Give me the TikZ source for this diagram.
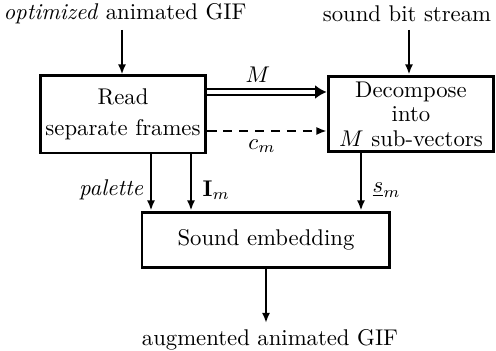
\documentclass[tikz,border=0pt]{standalone}
\usetikzlibrary{arrows.meta,calc}
\begin{document}
\begin{tikzpicture}[x=0.44pt,y=-0.44pt,
  blk/.style={draw,line width=1.3pt,inner sep=0pt,align=center},
  arr/.style={line width=1.2pt,-{Latex[length=4.5pt,width=3.6pt]}},
  lbl/.style={inner sep=1pt}]
\useasboundingbox (0,0) rectangle (496,351);
\node[lbl] (gif) at (125,14) {\textit{optimized} animated GIF};
\node[lbl] (snd) at (407,14) {sound bit stream};
\node[blk,minimum width=73pt,minimum height=33.9pt,font={\fontsize{10}{13.6}\selectfont}] (rd) at (123,114.5) {Read\\separate frames};
\node[blk,minimum width=73pt,minimum height=33.4pt,font={\fontsize{10}{10.8}\selectfont}] (dc) at (411,114) {Decompose\\into\\$M$ sub-vectors};
\node[blk,minimum width=109.1pt,minimum height=24.6pt] (se) at (266,240) {Sound embedding};
\node[lbl] (out) at (270,340) {augmented animated GIF};
\coordinate (gifa) at (122,30);
\coordinate (snda) at (409,30);
\draw[arr] (gifa) -- (gifa |- rd.north);
\draw[arr] (snda) -- (snda |- dc.north);
% M double arrow
\coordinate (m1) at (rd.east |- 0,92);
\coordinate (m2) at (dc.west |- 0,92);
\draw[line width=0.8pt,double distance=1.8pt,-{Latex[length=5pt,width=6pt]}] (m1) -- (m2);
\node[lbl] (ml) at (258,75) {$M$};
% c_m dashed
\coordinate (c1) at (rd.east |- 0,131);
\coordinate (c2) at (dc.west |- 0,131);
\draw[line width=0.8pt,dash pattern=on 4pt off 3pt,-{Latex[length=4.5pt,width=3.6pt]}] (c1) -- (c2);
\node[lbl] (cl) at (262,146) {$c_m$};
% down arrows
\coordinate (p1) at (151,0);
\coordinate (p2) at (191,0);
\coordinate (p3) at (361,0);
\draw[arr] (p1 |- rd.south) -- (p1 |- se.north);
\draw[arr] (p2 |- rd.south) -- (p2 |- se.north);
\draw[arr] (p3 |- dc.south) -- (p3 |- se.north);
\node[lbl,anchor=east] (pl) at (146,190) {\textit{palette}};
\node[lbl,anchor=west] (il) at (200,190) {$\mathbf{I}_m$};
\node[lbl,anchor=west] (sl) at (370,190) {$\underline{s}_m$};
\coordinate (oa) at (266,323);
\draw[arr] (oa |- se.south) -- (oa);
\end{tikzpicture}
\end{document}
